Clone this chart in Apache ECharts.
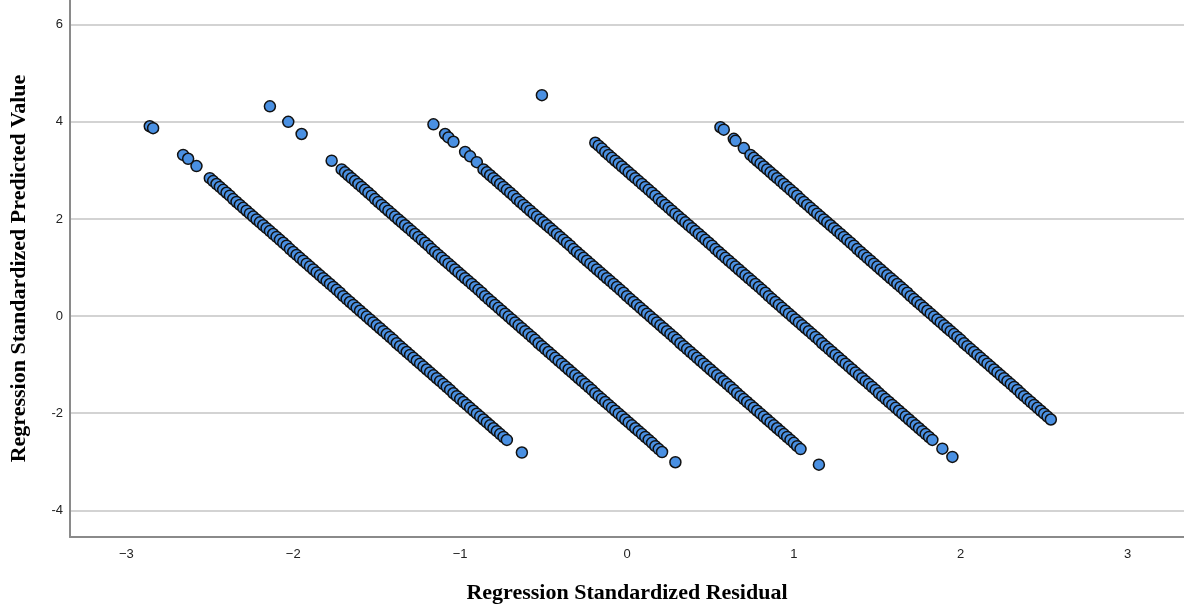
<!DOCTYPE html>
<html>
<head>
<meta charset="utf-8">
<script src="https://cdn.jsdelivr.net/npm/echarts@6/dist/echarts.min.js"></script>
<style>
html,body{margin:0;padding:0;background:#fff;}
#chart{width:1184px;height:609px;}
</style>
</head>
<body>
<div id="chart"></div>
<script>
// Axis titles
const xTitle = 'Regression Standardized Residual';
const yTitle = 'Regression Standardized Predicted Value';

// Observed-value band 1 (leftmost diagonal)
const line1 = [
[-2.86,3.91],[-2.84,3.87],[-2.66,3.32],[-2.63,3.24],[-2.58,3.09],
[-2.50,2.84],[-2.48,2.78],[-2.46,2.72],[-2.44,2.66],[-2.42,2.60],[-2.40,2.54],[-2.38,2.48],[-2.36,2.41],[-2.34,2.35],[-2.32,2.29],
[-2.30,2.23],[-2.28,2.17],[-2.26,2.11],[-2.24,2.05],[-2.22,1.99],[-2.20,1.93],[-2.18,1.87],[-2.16,1.81],[-2.14,1.75],[-2.12,1.69],
[-2.10,1.63],[-2.08,1.57],[-2.06,1.51],[-2.04,1.45],[-2.02,1.38],[-2.00,1.32],[-1.98,1.26],[-1.96,1.20],[-1.94,1.14],[-1.92,1.08],
[-1.90,1.02],[-1.88,0.96],[-1.86,0.90],[-1.84,0.84],[-1.82,0.78],[-1.80,0.72],[-1.78,0.66],[-1.76,0.60],[-1.74,0.54],[-1.72,0.48],
[-1.70,0.41],[-1.68,0.35],[-1.66,0.29],[-1.64,0.23],[-1.62,0.17],[-1.60,0.11],[-1.58,0.05],[-1.56,-0.01],[-1.54,-0.07],[-1.52,-0.13],
[-1.50,-0.19],[-1.48,-0.25],[-1.46,-0.31],[-1.44,-0.37],[-1.42,-0.43],[-1.40,-0.49],[-1.38,-0.56],[-1.36,-0.62],[-1.34,-0.68],[-1.32,-0.74],
[-1.30,-0.80],[-1.28,-0.86],[-1.26,-0.92],[-1.24,-0.98],[-1.22,-1.04],[-1.20,-1.10],[-1.18,-1.16],[-1.16,-1.22],[-1.14,-1.28],[-1.12,-1.34],
[-1.10,-1.40],[-1.08,-1.46],[-1.06,-1.52],[-1.04,-1.59],[-1.02,-1.65],[-1.00,-1.71],[-0.98,-1.77],[-0.96,-1.83],[-0.94,-1.89],[-0.92,-1.95],
[-0.90,-2.01],[-0.88,-2.07],[-0.86,-2.13],[-0.84,-2.19],[-0.82,-2.25],[-0.80,-2.31],[-0.78,-2.37],[-0.76,-2.43],[-0.74,-2.49],[-0.72,-2.55],
[-0.63,-2.81]
];

// Band 2
const line2 = [
[-2.14,4.32],[-2.03,4.00],[-1.95,3.75],[-1.77,3.20],
[-1.71,3.02],[-1.69,2.96],[-1.67,2.90],
[-1.65,2.84],[-1.63,2.78],[-1.61,2.72],[-1.59,2.66],[-1.57,2.60],[-1.55,2.54],[-1.53,2.48],[-1.51,2.41],[-1.49,2.35],[-1.47,2.29],
[-1.45,2.23],[-1.43,2.17],[-1.41,2.11],[-1.39,2.05],[-1.37,1.99],[-1.35,1.93],[-1.33,1.87],[-1.31,1.81],[-1.29,1.75],[-1.27,1.69],
[-1.25,1.63],[-1.23,1.57],[-1.21,1.51],[-1.19,1.45],[-1.17,1.38],[-1.15,1.32],[-1.13,1.26],[-1.11,1.20],[-1.09,1.14],[-1.07,1.08],
[-1.05,1.02],[-1.03,0.96],[-1.01,0.90],[-0.99,0.84],[-0.97,0.78],[-0.95,0.72],[-0.93,0.66],[-0.91,0.60],[-0.89,0.54],[-0.87,0.48],
[-0.85,0.41],[-0.83,0.35],[-0.81,0.29],[-0.79,0.23],[-0.77,0.17],[-0.75,0.11],[-0.73,0.05],[-0.71,-0.01],[-0.69,-0.07],[-0.67,-0.13],
[-0.65,-0.19],[-0.63,-0.25],[-0.61,-0.31],[-0.59,-0.37],[-0.57,-0.43],[-0.55,-0.49],[-0.53,-0.56],[-0.51,-0.62],[-0.49,-0.68],[-0.47,-0.74],
[-0.45,-0.80],[-0.43,-0.86],[-0.41,-0.92],[-0.39,-0.98],[-0.37,-1.04],[-0.35,-1.10],[-0.33,-1.16],[-0.31,-1.22],[-0.29,-1.28],[-0.27,-1.34],
[-0.25,-1.40],[-0.23,-1.46],[-0.21,-1.52],[-0.19,-1.59],[-0.17,-1.65],[-0.15,-1.71],[-0.13,-1.77],[-0.11,-1.83],[-0.09,-1.89],[-0.07,-1.95],
[-0.05,-2.01],[-0.03,-2.07],[-0.01,-2.13],[0.01,-2.19],[0.03,-2.25],[0.05,-2.31],[0.07,-2.37],[0.09,-2.43],[0.11,-2.49],[0.13,-2.55],
[0.15,-2.61],[0.17,-2.68],[0.19,-2.74],[0.21,-2.80],
[0.29,-3.01]
];

// Band 3
const line3 = [
[-1.16,3.95],[-1.09,3.75],[-1.07,3.68],[-1.04,3.59],[-0.97,3.38],[-0.94,3.29],[-0.90,3.17],
[-0.86,3.02],[-0.84,2.96],[-0.82,2.90],
[-0.80,2.84],[-0.78,2.78],[-0.76,2.72],[-0.74,2.66],[-0.72,2.60],[-0.70,2.54],[-0.68,2.48],[-0.66,2.41],[-0.64,2.35],[-0.62,2.29],
[-0.60,2.23],[-0.58,2.17],[-0.56,2.11],[-0.54,2.05],[-0.52,1.99],[-0.50,1.93],[-0.48,1.87],[-0.46,1.81],[-0.44,1.75],[-0.42,1.69],
[-0.40,1.63],[-0.38,1.57],[-0.36,1.51],[-0.34,1.45],[-0.32,1.38],[-0.30,1.32],[-0.28,1.26],[-0.26,1.20],[-0.24,1.14],[-0.22,1.08],
[-0.20,1.02],[-0.18,0.96],[-0.16,0.90],[-0.14,0.84],[-0.12,0.78],[-0.10,0.72],[-0.08,0.66],[-0.06,0.60],[-0.04,0.54],[-0.02,0.48],
[0.00,0.41],[0.02,0.35],[0.04,0.29],[0.06,0.23],[0.08,0.17],[0.10,0.11],[0.12,0.05],[0.14,-0.01],[0.16,-0.07],[0.18,-0.13],
[0.20,-0.19],[0.22,-0.25],[0.24,-0.31],[0.26,-0.37],[0.28,-0.43],[0.30,-0.49],[0.32,-0.56],[0.34,-0.62],[0.36,-0.68],[0.38,-0.74],
[0.40,-0.80],[0.42,-0.86],[0.44,-0.92],[0.46,-0.98],[0.48,-1.04],[0.50,-1.10],[0.52,-1.16],[0.54,-1.22],[0.56,-1.28],[0.58,-1.34],
[0.60,-1.40],[0.62,-1.46],[0.64,-1.52],[0.66,-1.59],[0.68,-1.65],[0.70,-1.71],[0.72,-1.77],[0.74,-1.83],[0.76,-1.89],[0.78,-1.95],
[0.80,-2.01],[0.82,-2.07],[0.84,-2.13],[0.86,-2.19],[0.88,-2.25],[0.90,-2.31],[0.92,-2.37],[0.94,-2.43],[0.96,-2.49],[0.98,-2.55],
[1.00,-2.61],[1.02,-2.68],[1.04,-2.74],
[1.15,-3.06]
];

// Band 4
const line4 = [
[-0.51,4.55],
[-0.19,3.57],[-0.17,3.51],[-0.15,3.45],[-0.13,3.38],[-0.11,3.32],[-0.09,3.26],[-0.07,3.20],[-0.05,3.14],[-0.03,3.08],[-0.01,3.02],[0.01,2.96],[0.03,2.90],
[0.05,2.84],[0.07,2.78],[0.09,2.72],[0.11,2.66],[0.13,2.60],[0.15,2.54],[0.17,2.48],[0.19,2.41],[0.21,2.35],[0.23,2.29],
[0.25,2.23],[0.27,2.17],[0.29,2.11],[0.31,2.05],[0.33,1.99],[0.35,1.93],[0.37,1.87],[0.39,1.81],[0.41,1.75],[0.43,1.69],
[0.45,1.63],[0.47,1.57],[0.49,1.51],[0.51,1.45],[0.53,1.38],[0.55,1.32],[0.57,1.26],[0.59,1.20],[0.61,1.14],[0.63,1.08],
[0.65,1.02],[0.67,0.96],[0.69,0.90],[0.71,0.84],[0.73,0.78],[0.75,0.72],[0.77,0.66],[0.79,0.60],[0.81,0.54],[0.83,0.48],
[0.85,0.41],[0.87,0.35],[0.89,0.29],[0.91,0.23],[0.93,0.17],[0.95,0.11],[0.97,0.05],[0.99,-0.01],[1.01,-0.07],[1.03,-0.13],
[1.05,-0.19],[1.07,-0.25],[1.09,-0.31],[1.11,-0.37],[1.13,-0.43],[1.15,-0.49],[1.17,-0.56],[1.19,-0.62],[1.21,-0.68],[1.23,-0.74],
[1.25,-0.80],[1.27,-0.86],[1.29,-0.92],[1.31,-0.98],[1.33,-1.04],[1.35,-1.10],[1.37,-1.16],[1.39,-1.22],[1.41,-1.28],[1.43,-1.34],
[1.45,-1.40],[1.47,-1.46],[1.49,-1.52],[1.51,-1.59],[1.53,-1.65],[1.55,-1.71],[1.57,-1.77],[1.59,-1.83],[1.61,-1.89],[1.63,-1.95],
[1.65,-2.01],[1.67,-2.07],[1.69,-2.13],[1.71,-2.19],[1.73,-2.25],[1.75,-2.31],[1.77,-2.37],[1.79,-2.43],[1.81,-2.49],[1.83,-2.55],
[1.89,-2.73],[1.95,-2.90]
];

// Band 5 (rightmost)
const line5 = [
[0.56,3.89],[0.58,3.84],[0.64,3.65],[0.65,3.61],[0.70,3.46],
[0.74,3.32],[0.76,3.26],[0.78,3.20],[0.80,3.14],[0.82,3.08],[0.84,3.02],[0.86,2.96],[0.88,2.90],
[0.90,2.84],[0.92,2.78],[0.94,2.72],[0.96,2.66],[0.98,2.60],[1.00,2.54],[1.02,2.48],[1.04,2.41],[1.06,2.35],[1.08,2.29],
[1.10,2.23],[1.12,2.17],[1.14,2.11],[1.16,2.05],[1.18,1.99],[1.20,1.93],[1.22,1.87],[1.24,1.81],[1.26,1.75],[1.28,1.69],
[1.30,1.63],[1.32,1.57],[1.34,1.51],[1.36,1.45],[1.38,1.38],[1.40,1.32],[1.42,1.26],[1.44,1.20],[1.46,1.14],[1.48,1.08],
[1.50,1.02],[1.52,0.96],[1.54,0.90],[1.56,0.84],[1.58,0.78],[1.60,0.72],[1.62,0.66],[1.64,0.60],[1.66,0.54],[1.68,0.48],
[1.70,0.41],[1.72,0.35],[1.74,0.29],[1.76,0.23],[1.78,0.17],[1.80,0.11],[1.82,0.05],[1.84,-0.01],[1.86,-0.07],[1.88,-0.13],
[1.90,-0.19],[1.92,-0.25],[1.94,-0.31],[1.96,-0.37],[1.98,-0.43],[2.00,-0.49],[2.02,-0.56],[2.04,-0.62],[2.06,-0.68],[2.08,-0.74],
[2.10,-0.80],[2.12,-0.86],[2.14,-0.92],[2.16,-0.98],[2.18,-1.04],[2.20,-1.10],[2.22,-1.16],[2.24,-1.22],[2.26,-1.28],[2.28,-1.34],
[2.30,-1.40],[2.32,-1.46],[2.34,-1.52],[2.36,-1.59],[2.38,-1.65],[2.40,-1.71],[2.42,-1.77],[2.44,-1.83],[2.46,-1.89],[2.48,-1.95],
[2.50,-2.01],[2.52,-2.07],[2.54,-2.13]
];

// Axis extents
const xRange = [-3.338, 3.338];
const yRange = [-4.55, 6.51];

const chart = echarts.init(document.getElementById('chart'), null, {renderer: 'canvas'});
const allPoints = [].concat(line1, line2, line3, line4, line5);

chart.setOption({
  animation: false,
  backgroundColor: '#ffffff',
  grid: {left: 66, right: 0, top: 0, height: 541, containLabel: false},
  xAxis: {
    type: 'value',
    min: xRange[0], max: xRange[1],
    splitNumber: 6,
    name: xTitle,
    nameLocation: 'middle',
    nameGap: 45,
    nameTextStyle: {fontFamily: 'Liberation Serif', fontWeight: 'bold', fontSize: 22, color: '#000'},
    axisLine: {show: true, onZero: false, lineStyle: {color: '#8a8a8a', width: 2}},
    axisTick: {show: false},
    splitLine: {show: false},
    axisLabel: {
      showMinLabel: false, showMaxLabel: false,
      margin: 11,
      fontFamily: 'Liberation Sans', fontSize: 13, color: '#222',
      formatter: function (v) {
        if (Math.abs(v - Math.round(v)) > 1e-6) return '';
        return v < 0 ? '\u2212' + Math.abs(v) : String(v);
      }
    }
  },
  yAxis: {
    type: 'value',
    min: yRange[0], max: yRange[1],
    splitNumber: 5,
    name: yTitle,
    nameLocation: 'middle',
    nameGap: 40,
    nameTextStyle: {fontFamily: 'Liberation Serif', fontWeight: 'bold', fontSize: 22, color: '#000'},
    axisLine: {show: true, onZero: false, lineStyle: {color: '#8a8a8a', width: 2}},
    axisTick: {show: false},
    splitLine: {show: true, showMinLine: false, showMaxLine: false, lineStyle: {color: '#c4c4c4', width: 1.5}},
    axisLabel: {
      showMinLabel: false, showMaxLabel: false,
      margin: 7,
      fontFamily: 'Liberation Sans', fontSize: 13, color: '#222',
      formatter: function (v) {
        if (Math.abs(v - Math.round(v)) > 1e-6) return '';
        return String(v);
      }
    }
  },
  series: [{
    type: 'scatter',
    data: allPoints,
    symbol: 'circle',
    symbolSize: 11,
    itemStyle: {color: '#4a90e2', borderColor: '#111111', borderWidth: 1.5, opacity: 1}
  }]
});
</script>
</body>
</html>
